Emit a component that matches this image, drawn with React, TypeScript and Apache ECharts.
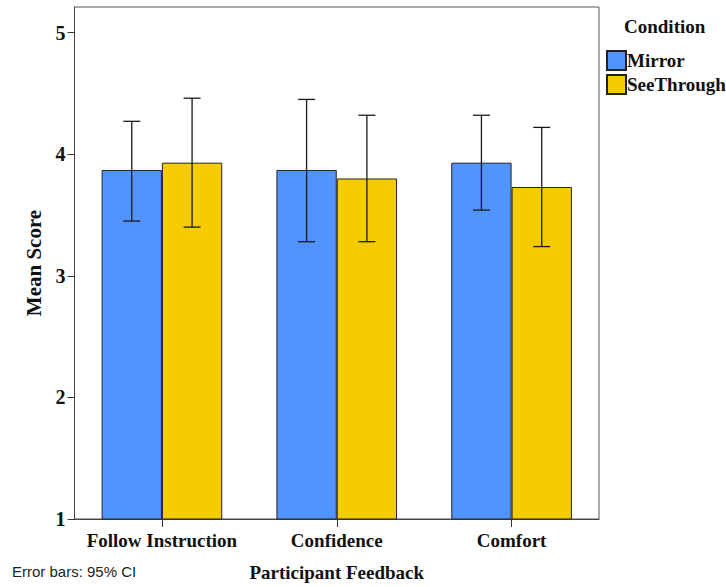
import React, { useEffect, useRef } from "react";
import * as echarts from "echarts";

const categories = ["Follow Instruction", "Confidence", "Comfort"];
const conditions = ["Mirror", "SeeThrough"];
const mirrorMeans = [3.87, 3.87, 3.93];
const mirrorLow = [3.45, 3.28, 3.54];
const mirrorHigh = [4.27, 4.45, 4.32];
const seeMeans = [3.93, 3.8, 3.73];
const seeLow = [3.4, 3.28, 3.24];
const seeHigh = [4.46, 4.32, 4.22];
const yTicks = [1, 2, 3, 4, 5];

const SERIF = "'Liberation Serif', 'Times New Roman', serif";
const SANS = "'Liberation Sans', Arial, sans-serif";
const CAT_GAP = 0.31;

function errorSeries(name: string, low: number[], high: number[], sign: number) {
  return {
    type: "custom",
    name: name + " CI",
    encode: { x: 0, y: [1, 2] },
    data: low.map((l, i) => [i, l, high[i]]),
    z: 10,
    renderItem: (params: any, api: any) => {
      const cat = api.value(0);
      const lo = api.coord([cat, api.value(1)]);
      const hi = api.coord([cat, api.value(2)]);
      const band = api.size([1, 0])[0];
      const bw = (band * (1 - CAT_GAP)) / 2;
      const x = lo[0] + (sign * bw) / 2;
      const cap = 8.5;
      const style = { stroke: "#1a1a1a", lineWidth: 1.3 };
      return {
        type: "group",
        children: [
          { type: "line", shape: { x1: x, y1: hi[1], x2: x, y2: lo[1] }, style },
          { type: "line", shape: { x1: x - cap, y1: hi[1], x2: x + cap, y2: hi[1] }, style },
          { type: "line", shape: { x1: x - cap, y1: lo[1], x2: x + cap, y2: lo[1] }, style },
        ],
      };
    },
  };
}

export default function App() {
  const ref = useRef<HTMLDivElement>(null);
  useEffect(() => {
    if (!ref.current) return;
    const chart = echarts.init(ref.current, null, { renderer: "svg" });
    chart.setOption({
      animation: false,
      backgroundColor: "#ffffff",
      grid: {
        left: 74.5,
        right: 127,
        top: 7,
        bottom: 68,
        containLabel: false,
        outerBoundsMode: "none",
        show: true,
        borderColor: "#555555",
        borderWidth: 1,
        backgroundColor: "transparent",
      },
      legend: {
        data: conditions,
        orient: "vertical",
        left: 601,
        top: 45,
        itemWidth: 19,
        itemHeight: 19,
        itemGap: 3,
        icon: "rect",
        textStyle: { fontFamily: SERIF, fontWeight: "bold", fontSize: 19, color: "#111", padding: [0, 0, 0, -4] },
      },
      graphic: [
        {
          type: "text",
          left: 624,
          top: 17,
          style: { text: "Condition", font: `bold 19px ${SERIF}`, fill: "#111" },
        },
        {
          type: "text",
          left: 12,
          top: 564,
          style: { text: "Error bars: 95% CI", font: `15px ${SANS}`, fill: "#222" },
        },
      ],
      xAxis: {
        type: "category",
        data: categories,
        name: "Participant Feedback",
        nameLocation: "middle",
        nameGap: 44,
        nameTextStyle: { fontFamily: SERIF, fontWeight: "bold", fontSize: 19, color: "#111" },
        axisLine: { show: true, onZero: false, lineStyle: { color: "#444444", width: 1 } },
        axisTick: { show: true, inside: false, alignWithLabel: true, interval: 0, length: 8, lineStyle: { color: "#333333", width: 1 } },
        axisLabel: { interval: 0, fontFamily: SERIF, fontWeight: "bold", fontSize: 19, color: "#111", margin: 12 },
        splitLine: { show: false },
      },
      yAxis: {
        type: "value",
        min: 1,
        max: 5.21,
        interval: 1,
        name: "Mean Score",
        nameLocation: "middle",
        nameGap: 30,
        nameTextStyle: { fontFamily: SERIF, fontWeight: "bold", fontSize: 21, color: "#111" },
        axisLine: { show: true, lineStyle: { color: "#444444", width: 1 } },
        axisTick: { show: true, inside: false, length: 7, lineStyle: { color: "#333333", width: 1 }, customValues: yTicks },
        axisLabel: {
          fontFamily: SERIF,
          fontWeight: "bold",
          fontSize: 20,
          color: "#111",
          margin: 9,
          customValues: yTicks,
          formatter: (v: number) => (Number.isInteger(v) ? String(v) : ""),
        },
        splitLine: { show: false },
      },
      series: [
        {
          type: "bar",
          name: conditions[0],
          data: mirrorMeans,
          barGap: "0%",
          barCategoryGap: "31%",
          itemStyle: { color: "#5294ff", borderColor: "#222", borderWidth: 1 },
        },
        {
          type: "bar",
          name: conditions[1],
          data: seeMeans,
          barGap: "0%",
          barCategoryGap: "31%",
          itemStyle: { color: "#f5cc00", borderColor: "#222", borderWidth: 1 },
        },
        errorSeries(conditions[0], mirrorLow, mirrorHigh, -1),
        errorSeries(conditions[1], seeLow, seeHigh, 1),
      ],
    });
    return () => chart.dispose();
  }, []);
  return <div ref={ref} style={{ position: "fixed", left: 0, top: 0, width: 726, height: 587 }} />;
}
